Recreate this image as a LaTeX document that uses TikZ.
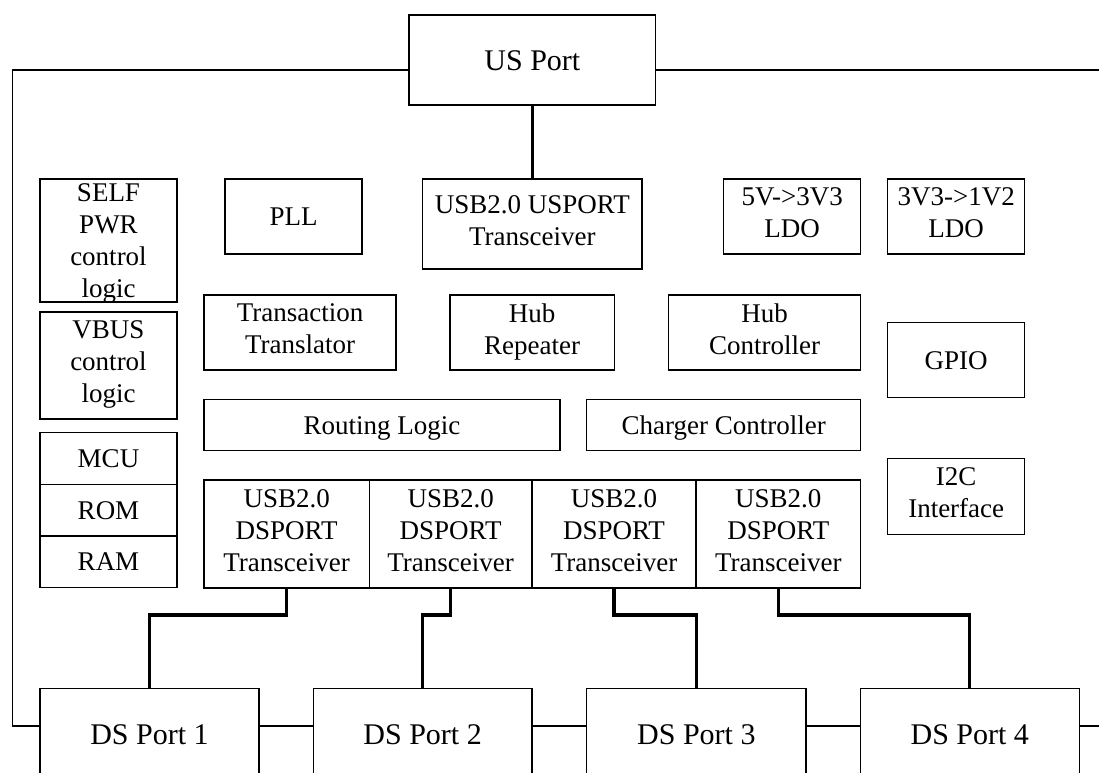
\documentclass[tikz,border=0pt]{standalone}
\usepackage{fontspec}
\setmainfont{Liberation Serif}
\newcommand\blkstrut{\rule[-7pt]{0pt}{32pt}}
\newcommand\portstrut{\rule[-7pt]{0pt}{34pt}}
\begin{document}
\begin{tikzpicture}[x=1pt,y=-1pt,
  blk/.style={draw,line width=1.2pt,inner sep=0pt,align=center,
    font=\fontsize{27}{32}\selectfont,
    execute at begin node=\blkstrut, execute at end node=\blkstrut},
  tallblk/.style={draw,line width=1.2pt,inner sep=0pt,align=center,
    font=\fontsize{27}{32}\selectfont},
  portblk/.style={draw,line width=1.2pt,inner sep=0pt,align=center,
    font=\fontsize{30}{34}\selectfont,
    execute at begin node=\portstrut, execute at end node=\portstrut},
  thin/.style={line width=1.2pt},
  bus/.style={line width=3.2pt}]
\useasboundingbox (0,0) rectangle (1099,772);
\clip (0,0) rectangle (1099,772);
% top row
\node[portblk,minimum width=246.6pt,minimum height=90pt] (us) at (532.35,60) {US Port};
\node[tallblk,minimum width=137pt,minimum height=123pt] (self) at (108.5,240.5) {SELF\\PWR\\control\\\raisebox{0pt}[\height][0pt]{logic}};
\node[blk,minimum width=137pt,minimum height=75pt] (pll) at (293.5,216.5) {PLL};
\node[blk,minimum width=219.3pt,minimum height=90pt] (usport) at (532.35,224) {USB2.0 USPORT\\Transceiver};
\node[blk,minimum width=137pt,minimum height=75pt] (ldoa) at (792.2,216.5) {5V->3V3\\LDO};
\node[blk,minimum width=137pt,minimum height=75pt] (ldob) at (956.2,216.5) {3V3->1V2\\LDO};
% second row
\node[blk,minimum width=192pt,minimum height=75pt] (tt) at (300,332.5) {Transaction\\Translator};
\node[blk,minimum width=164.3pt,minimum height=75pt] (hubrep) at (532.15,332.5) {Hub\\Repeater};
\node[blk,minimum width=192pt,minimum height=75pt] (hubctl) at (764.7,332.5) {Hub\\Controller};
\node[blk,minimum width=137pt,minimum height=75.4pt] (gpio) at (956.2,360) {GPIO};
\node[blk,minimum width=137pt,minimum height=107pt] (vbus) at (108.5,365.5) {VBUS\\control\\logic};
% third row
\node[blk,minimum width=356pt,minimum height=51.4pt] (routing) at (382,425) {Routing Logic};
\node[blk,minimum width=274pt,minimum height=51.4pt] (charger) at (723.7,425) {Charger Controller};
\node[blk,minimum width=137pt,minimum height=52pt] (mcu) at (108.5,458.7) {MCU};
\node[blk,minimum width=137pt,minimum height=51.3pt] (rom) at (108.5,510.35) {ROM};
\node[blk,minimum width=137pt,minimum height=51.7pt] (ram) at (108.5,561.85) {RAM};
\node[blk,minimum width=137pt,minimum height=75.6pt] (i2c) at (956.2,496.5) {I2C\\Interface};
% downstream transceivers
\node[blk,minimum width=165.3pt,minimum height=108pt] (ds1) at (286.65,534) {USB2.0\\DSPORT\\Transceiver};
\node[blk,minimum width=162.7pt,minimum height=108pt] (ds2) at (450.65,534) {USB2.0\\DSPORT\\Transceiver};
\node[blk,minimum width=164pt,minimum height=108pt] (ds3) at (614,534) {USB2.0\\DSPORT\\Transceiver};
\node[blk,minimum width=164.7pt,minimum height=108pt] (ds4) at (778.35,534) {USB2.0\\DSPORT\\Transceiver};
% downstream ports
\node[portblk,minimum width=219pt,minimum height=90.6pt] (p1) at (149.5,734) {DS Port 1};
\node[portblk,minimum width=218.7pt,minimum height=90.6pt] (p2) at (422.65,734) {DS Port 2};
\node[portblk,minimum width=219.3pt,minimum height=90.6pt] (p3) at (696.35,734) {DS Port 3};
\node[portblk,minimum width=219pt,minimum height=90.6pt] (p4) at (969.8,734) {DS Port 4};
% connectors
\draw[bus] (us.south) -- (usport.north);
\draw[bus] (ds1.south) -- (ds1.south |- 0,615) -| (p1.north);
\draw[bus] (ds2.south) -- (ds2.south |- 0,615) -| (p2.north);
\draw[bus] (ds3.south) -- (ds3.south |- 0,615) -| (p3.north);
\draw[bus] (ds4.south) -- (ds4.south |- 0,615) -| (p4.north);
% outer frame
\coordinate (ftl) at (12.7,70);
\coordinate (fbl) at (12.7,726);
\coordinate (ftr) at (1099,70);
\coordinate (fbr) at (1099,726);
\draw[thin] (us.west |- ftl) -- (ftl) -- (fbl) -- (p1.west |- fbl);
\draw[thin] (us.east |- ftr) -- (ftr);
\draw[thin] (p1.east |- fbl) -- (p2.west |- fbl);
\draw[thin] (p2.east |- fbl) -- (p3.west |- fbl);
\draw[thin] (p3.east |- fbl) -- (p4.west |- fbl);
\draw[thin] (p4.east |- fbr) -- (fbr);
\end{tikzpicture}
\end{document}
